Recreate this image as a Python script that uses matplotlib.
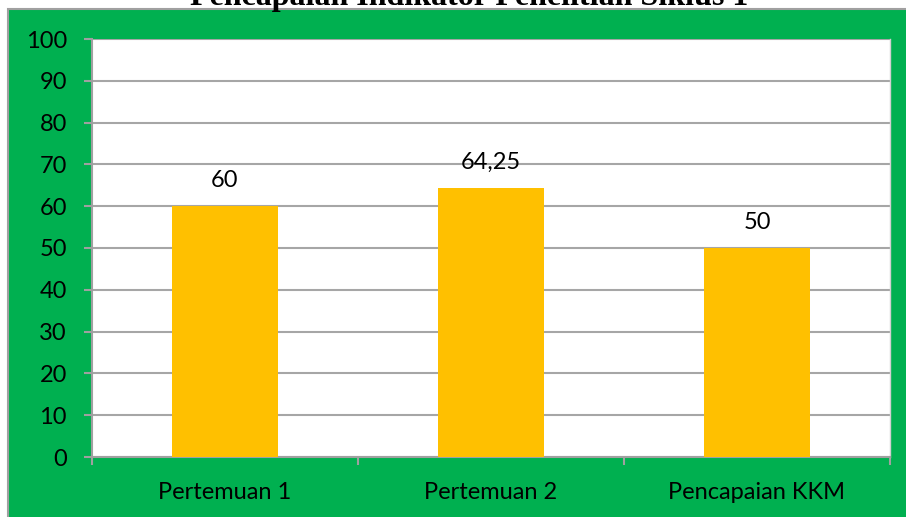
import matplotlib
matplotlib.use("Agg")
import matplotlib.pyplot as plt
from matplotlib.patches import Rectangle

# data
categories = ["Pertemuan 1", "Pertemuan 2", "Pencapaian KKM"]
values = [60, 64.25, 50]
value_labels = ["60", "64,25", "50"]
yticks = list(range(0, 101, 10))
title = "Pencapaian Indikator Penelitian Siklus 1"

W, H = 906, 517
fig = plt.figure(figsize=(W / 100, H / 100), dpi=100, facecolor="white")

# green chart area with grey border
fig.patches.append(Rectangle((8 / W, -0.1), 1.2, 1 - 9 / H + 0.1, transform=fig.transFigure,
                             facecolor="#00B050", edgecolor="#A0A0A0", linewidth=1.5, zorder=-5))

# cut-off title at the very top
fig.text(469 / W, 1 - 5 / H, title, ha="center", va="baseline",
         fontsize=23, fontweight="bold", family="Liberation Serif")

ax = fig.add_axes([92 / W, (H - 457) / H, (890 - 92) / W, (457 - 39) / H])
ax.set_facecolor("white")

x = list(range(len(categories)))
ax.bar(x, values, width=0.4, color="#FFC000", zorder=3)

ax.set_xlim(-0.5, len(categories) - 0.5)
ax.set_ylim(0, 100)
ax.set_yticks(yticks)
ax.yaxis.grid(True, color="#A6A6A6", linewidth=1.5, zorder=1)

for xi, v, lab in zip(x, values, value_labels):
    ax.annotate(lab, (xi, v), xytext=(0, 14), textcoords="offset points",
                ha="center", va="baseline", fontsize=17, family="Lato", color="black")

ax.set_xticks(x)
ax.set_xticklabels(categories, fontsize=17, family="Lato")
ax.set_xticks([-0.5, 0.5, 1.5, 2.5], minor=True)
ax.tick_params(axis="x", which="major", length=0, pad=18)
ax.tick_params(axis="x", which="minor", length=6, width=1.5, color="#A0A0A0", direction="out")
ax.tick_params(axis="y", length=6, width=1.5, color="#A0A0A0", pad=12, labelsize=17)
for t in ax.get_yticklabels():
    t.set_family("Lato")

for s in ["left", "bottom"]:
    ax.spines[s].set_color("#A0A0A0")
    ax.spines[s].set_linewidth(1.5)
ax.spines["top"].set_visible(False)
ax.spines["right"].set_color("#D0D0D0")
ax.spines["right"].set_linewidth(1)

fig.savefig("out.png", dpi=100, facecolor="white")
